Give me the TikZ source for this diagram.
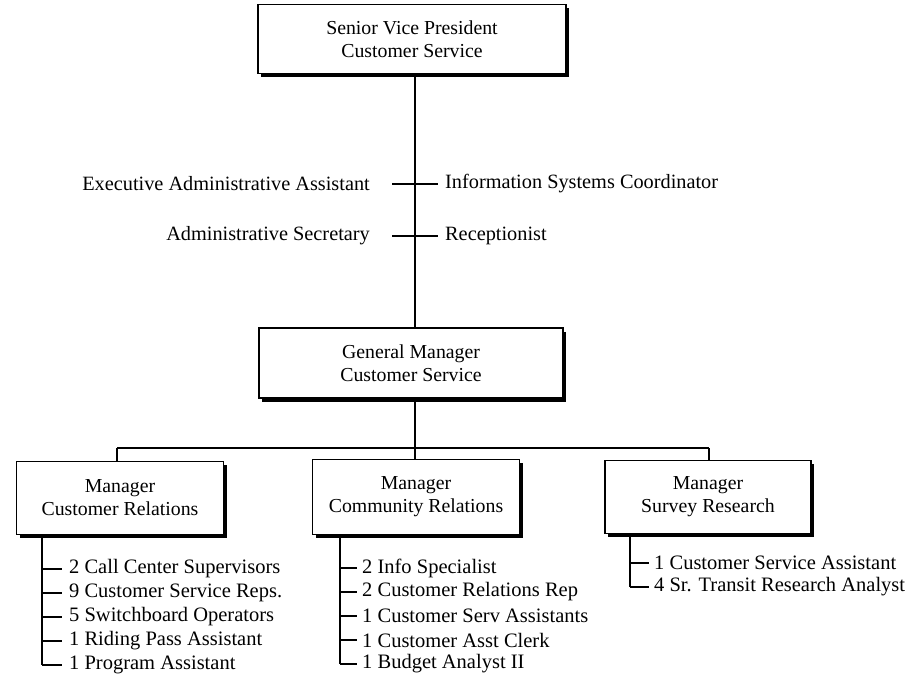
\documentclass[tikz,border=0pt]{standalone}
\usepackage{fontspec}
\setmainfont{Liberation Serif}
\usetikzlibrary{shadows}
\begin{document}
\begin{tikzpicture}[x=1pt,y=-1pt,
  box/.style={draw=black, line width=1.4pt, fill=white, align=center,
    font=\fontsize{19.8}{23}\selectfont, inner sep=0pt,
    drop shadow={shadow xshift=3pt, shadow yshift=-3.5pt, fill=black, opacity=1}},
  lbl/.style={font=\fontsize{20.3}{24}\selectfont, inner sep=1pt},
  item/.style={font=\fontsize{20.5}{24}\selectfont, inner sep=0pt, anchor=west},
  conn/.style={line width=1.6pt}]
\useasboundingbox (0,0) rectangle (915,681);
% boxes
\node[box, minimum width=308pt, minimum height=69pt] (svp) at (412,39) {Senior Vice President\\Customer Service};
\node[box, minimum width=304pt, minimum height=70pt] (gm) at (411,363) {General Manager\\Customer Service};
\node[box, minimum width=207pt, minimum height=73pt] (m1) at (120,498) {Manager\\Customer Relations};
\node[box, minimum width=207pt, minimum height=75pt] (m2) at (416,497) {Manager\\Community Relations};
\node[box, minimum width=206pt, minimum height=73pt] (m3) at (708,497) {Manager\\Survey Research};
% staff labels
\node[lbl, anchor=east] (eaa) at (371,184) {Executive Administrative Assistant};
\node[lbl, anchor=west] (isc) at (444,184) {Information Systems Coordinator};
\node[lbl, anchor=east] (as) at (371,236) {Administrative Secretary};
\node[lbl, anchor=west] (rec) at (444,236) {Receptionist};
\coordinate (spine) at (415,0);
\coordinate (t1l) at (392,184); \coordinate (t1r) at (438,184);
\coordinate (t2l) at (392,236); \coordinate (t2r) at (438,236);
\draw[conn] (svp.south -| spine) -- (gm.north -| spine);
\draw[conn] (t1l) -- (t1r);
\draw[conn] (t2l) -- (t2r);
% bar
\coordinate (bar) at (415,448);
\coordinate (barl) at (117,448);
\coordinate (barr) at (709,448);
\draw[conn] (gm.south -| bar) -- (bar);
\draw[conn] (barl) -- (barr);
\draw[conn] (barl) -- (m1.north -| barl);
\draw[conn] (bar) -- (m2.north -| bar);
\draw[conn] (barr) -- (m3.north -| barr);
% list 1
\foreach \y/\t [count=\i] in {569/2 Call Center Supervisors, 593/9 Customer Service Reps., 617/5 Switchboard Operators, 641/1 Riding Pass Assistant, 665/1 Program Assistant}{
  \node[item] (a\i) at (69,\y) {\t};
  \draw[conn] (42,\y) -- ([xshift=-7pt]a\i.west);
}
\draw[conn] (m1.south -| 42,0) -- (42,665);
% list 2
\foreach \y/\t [count=\i] in {568/2 Info Specialist, 592/2 Customer Relations Rep, 616/1 Customer Serv Assistants, 640/1 Customer Asst Clerk, 664/1 Budget Analyst II}{
  \node[item] (b\i) at (362,\y) {\t};
  \draw[conn] (340,\y) -- ([xshift=-5pt]b\i.west);
}
\draw[conn] (m2.south -| 340,0) -- (340,664);
% list 3
\foreach \y/\t [count=\i] in {563/1 Customer Service Assistant, 587/4 Sr. Transit Research Analyst}{
  \node[item] (c\i) at (654,\y) {\t};
  \draw[conn] (630,\y) -- ([xshift=-5pt]c\i.west);
}
\draw[conn] (m3.south -| 630,0) -- (630,587);
\end{tikzpicture}
\end{document}
